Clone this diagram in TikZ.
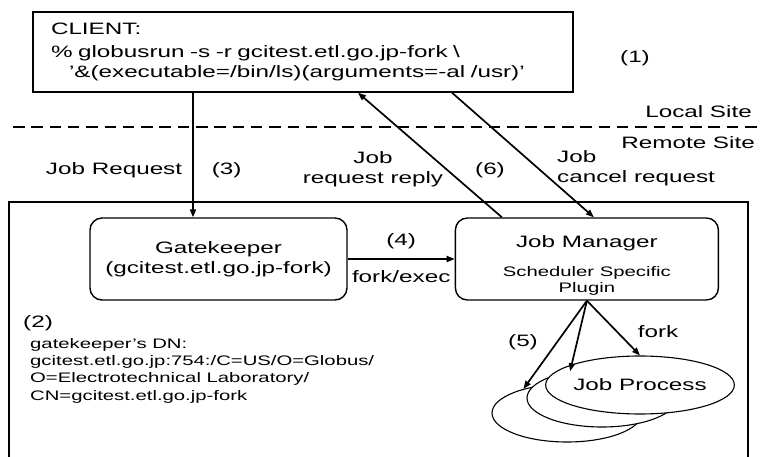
\documentclass[tikz,border=0pt]{standalone}
\usepackage{fontspec}
\setmainfont{Liberation Sans}[FakeStretch=1.47]
\usepackage{tikz}
\usetikzlibrary{arrows.meta, positioning, shapes.geometric}

\newcommand{\lblfont}{\fontsize{16.5}{20}\selectfont}
\newcommand{\dnfont}{\fontsize{13.8}{17.3}\selectfont}

\begin{document}
\begin{tikzpicture}[
    x=1pt, y=-1pt,
    lbl/.style={font=\lblfont, inner sep=0pt, align=center},
    client/.style={rectangle, draw, line width=1.4pt, font=\lblfont, align=left, minimum width=540pt, minimum height=80pt, text width=504pt, inner xsep=18pt},
    box/.style={rectangle, draw, line width=1.4pt, rounded corners=12pt, font=\lblfont, align=center, minimum width=257pt, minimum height=82pt},
    proc/.style={ellipse, draw, fill=white, line width=1.1pt, minimum width=150pt, minimum height=58pt, inner sep=0pt, font=\lblfont},
    dn/.style={font=\dnfont, align=left, inner sep=0pt},
    frame/.style={line width=1.4pt},
    sitesep/.style={line width=2pt, dash pattern=on 11.5pt off 6.8pt},
    arrow/.style={-{Triangle[length=8pt, width=6pt]}, line width=1.7pt}
]
    \useasboundingbox (0,0) rectangle (763,457);

    % --- Sites ---
    \draw[sitesep] (13,127) -- (757,127);
    \draw[frame] (9,460) -- (9,202) -- (748,202) -- (748,460);
    \node[lbl, anchor=east] (local) at (752,112) {Local Site};
    \node[lbl, anchor=east] (remote) at (755,143) {Remote Site};

    % --- Nodes ---
    \node[client] (client) at (303,52) {CLIENT:\\[2.5pt]
        \% globusrun -s -r gcitest.etl.go.jp-fork \textbackslash\\
        \hspace*{18pt}'\&(executable=/bin/ls)(arguments=-al /usr)'};
    \node[lbl] (one) at (635,58) {(1)};

    \node[box] (gate) at (218.5,259) {Gatekeeper\\(gcitest.etl.go.jp-fork)};
    \node[box, minimum width=263pt, right=107pt of gate] (jobmgr) {\rule{0pt}{24pt}Job Manager\\[9pt]
        {\dnfont Scheduler Specific}\\[-4pt]{\dnfont Plugin}};

    % Job processes
    \node[proc] (back) at (567,413) {};
    \node[proc] (mid) at (602,398) {};
    \node[proc] (front) at (640,385) {Job Process};

    % Gatekeeper DN
    \node[lbl, anchor=west] (two) at (23,323) {(2)};
    \node[dn, anchor=north west] (dn) at (30,338) {gatekeeper's DN:\\
        gcitest.etl.go.jp:754:/C=US/O=Globus/\\
        O=Electrotechnical Laboratory/\\
        CN=gcitest.etl.go.jp-fork};

    % Labels
    \node[lbl] (replylbl) at (373,169) {Job\\request reply};
    \node[lbl] (six) at (490,170) {(6)};
    \node[lbl, anchor=west, align=left] (cancellbl) at (557,168) {Job\\cancel request};
    \node[lbl] (five) at (523,342) {(5)};
    \node[lbl] (forklbl) at (658,332) {fork};

    % --- Connections ---
    \coordinate (reqx) at (193,0);
    \draw[arrow] (client.south -| reqx) -- (gate.north -| reqx)
        node[lbl, pos=0.62, left=10pt] (reqlbl) {Job Request}
        node[lbl, pos=0.62, right=18pt] (three) {(3)};

    \draw[arrow] ([xshift=-85pt]jobmgr.north) -- ([xshift=55pt]client.south);
    \draw[arrow] ([xshift=149pt]client.south) -- ([xshift=7pt]jobmgr.north);

    \draw[arrow] (gate.east) -- (jobmgr.west)
        node[lbl, midway, above=9pt] (four) {(4)}
        node[lbl, midway, below=11pt] (forkexec) {fork/exec};

    \draw[arrow] (jobmgr.south) -- (back.151);
    \draw[arrow] (jobmgr.south) -- (mid.140);
    \draw[arrow] (jobmgr.south) -- (front.north);

\end{tikzpicture}
\end{document}
